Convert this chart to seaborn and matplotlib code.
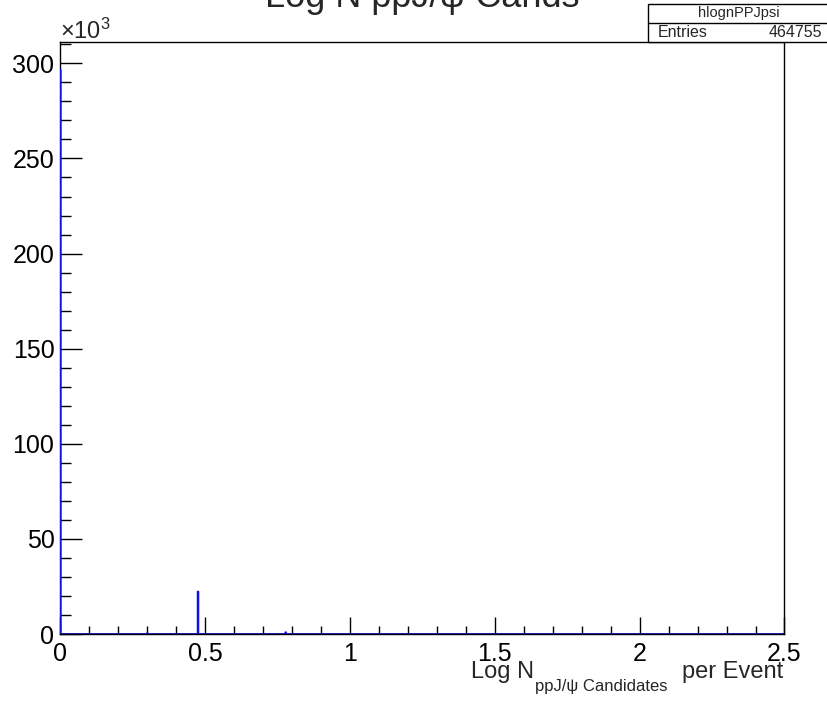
import numpy as np
import pandas as pd
import matplotlib
matplotlib.use("Agg")
import matplotlib.pyplot as plt
from matplotlib.ticker import MultipleLocator, FuncFormatter
from matplotlib.patches import Rectangle
import seaborn as sns

# ---- data ----
log_n_values = [0.0, 0.301, 0.477, 0.778]      # log10 N of populated bins
bin_counts = [296700, 400, 22300, 900]          # entries in those bins
x_range = [0.0, 2.5]
n_bins = 1000
y_max = 311500
title_text = "Log N ppJ/\u03c8 Cands"
hist_name = "hlognPPJpsi"
entries_text = "464755"

sns.set_theme(style="white")
plt.rcParams["font.family"] = ["Liberation Sans", "DejaVu Sans"]
plt.rcParams["mathtext.fontset"] = "custom"
plt.rcParams["mathtext.rm"] = "Liberation Sans"
plt.rcParams["mathtext.it"] = "Liberation Sans:italic"

W, H = 828, 703
fig = plt.figure(figsize=(W / 100, H / 100), dpi=100, facecolor="white")

def fx(px):
    return px / W

def fy(py):
    return 1 - py / H

ax_left, ax_right, ax_top, ax_bot = 60, 784.5, 41.5, 634
ax = fig.add_axes([fx(ax_left), fy(ax_bot), fx(ax_right - ax_left), (ax_bot - ax_top) / H])

df = pd.DataFrame({"logn": log_n_values, "count": bin_counts})
sns.histplot(data=df, x="logn", weights="count", bins=n_bins, binrange=tuple(x_range),
             element="step", fill=False, color="#1010e0", linewidth=1.3, ax=ax)
for ln in ax.lines:
    ln.set_zorder(2.8)

ax.set_xlim(*x_range)
ax.set_ylim(0, y_max)
ax.set_xlabel("")
ax.set_ylabel("")

for name, s in ax.spines.items():
    s.set_color("black")
    s.set_linewidth(1.0)
    s.set_visible(True)
    s.set_zorder(2.5 if name == "left" else 3)

ax.xaxis.set_major_locator(MultipleLocator(0.5))
ax.xaxis.set_minor_locator(MultipleLocator(0.1))
ax.yaxis.set_major_locator(MultipleLocator(50000))
ax.yaxis.set_minor_locator(MultipleLocator(10000))
ax.xaxis.set_major_formatter(FuncFormatter(lambda v, p: f"{v:g}"))
ax.yaxis.set_major_formatter(FuncFormatter(lambda v, p: f"{v/1000:g}"))

ax.tick_params(axis="x", which="major", direction="in", length=12, width=1,
               color="black", labelsize=18, pad=6, bottom=True, top=False)
ax.tick_params(axis="x", which="minor", direction="in", length=6, width=1,
               color="black", bottom=True, top=False)
ax.tick_params(axis="y", which="major", direction="in", length=15.6, width=1,
               color="black", labelsize=18, pad=4, left=True, right=False)
ax.tick_params(axis="y", which="minor", direction="in", length=7.8, width=1,
               color="black", left=True, right=False)
for lab in ax.get_xticklabels() + ax.get_yticklabels():
    lab.set_color("black")

# multiplier
fig.text(fx(60), fy(39), r"$\times$10$^{3}$", fontsize=17, ha="left", va="baseline")

# title (partially cut at top like the reference)
fig.text(fx(422), fy(7), title_text, fontsize=26, ha="center", va="baseline")

# x-axis title, ROOT style, right aligned
fig.text(fx(471), fy(678), "Log N", fontsize=17, ha="left", va="baseline")
fig.text(fx(535), fy(691), "ppJ/\u03c8 Candidates", fontsize=12, ha="left", va="baseline")
fig.text(fx(783), fy(678), "per Event", fontsize=17, ha="right", va="baseline")

# stats box
box = Rectangle((fx(648), fy(41.5)), fx(830 - 648), (41.5 - 4) / H, transform=fig.transFigure,
                facecolor="white", edgecolor="black", linewidth=1.0, zorder=5)
fig.patches.append(box)
fig.lines.append(plt.Line2D([fx(648), fx(830)], [fy(23), fy(23)], transform=fig.transFigure,
                            color="black", linewidth=1.0, zorder=6))
fig.text(fx(739), fy(13.5), hist_name, fontsize=10.5, ha="center", va="center", zorder=7)
fig.text(fx(658), fy(32.5), "Entries", fontsize=11.5, ha="left", va="center", zorder=7)
fig.text(fx(822), fy(32.5), entries_text, fontsize=11.5, ha="right", va="center", zorder=7)

fig.savefig("out.png", dpi=100, facecolor="white")
